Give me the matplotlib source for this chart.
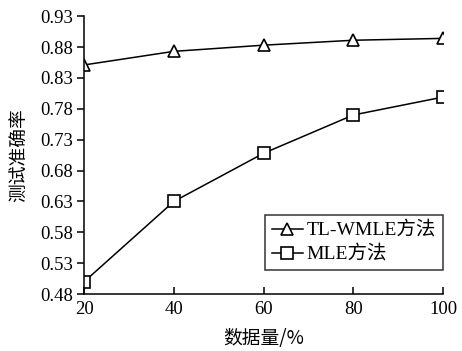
import matplotlib
matplotlib.use("Agg")
import matplotlib.pyplot as plt

plt.rcParams['font.family'] = ['Liberation Serif', 'Noto Sans CJK SC']
plt.rcParams['mathtext.fontset'] = 'stix'

data_pct = [20, 40, 60, 80, 100]
tl_wmle_acc = [0.851, 0.873, 0.883, 0.891, 0.894]
mle_acc = [0.500, 0.630, 0.708, 0.770, 0.799]
y_ticks = [0.48, 0.53, 0.58, 0.63, 0.68, 0.73, 0.78, 0.83, 0.88, 0.93]

fig = plt.figure(figsize=(4.62, 3.51), dpi=100)
ax = fig.add_axes([0.182, 0.162, 0.777, 0.792])

ax.plot(data_pct, tl_wmle_acc, color='black', lw=1.1, marker='^',
        ms=9, mfc='white', mec='black', mew=1.2, label='TL-WMLE方法')
ax.plot(data_pct, mle_acc, color='black', lw=1.1, marker='s',
        ms=8.5, mfc='white', mec='black', mew=1.2, label='MLE方法')

ax.set_xlim(20, 100)
ax.set_ylim(0.48, 0.93)
ax.set_xticks(data_pct)
ax.set_yticks(y_ticks)
ax.set_yticklabels([f"{v:.2f}" for v in y_ticks])

for side in ('top', 'right'):
    ax.spines[side].set_visible(False)
for side in ('left', 'bottom'):
    ax.spines[side].set_linewidth(1.1)

ax.tick_params(axis='x', direction='in', length=5, width=1.1, labelsize=13.5, pad=5)
ax.tick_params(axis='y', direction='out', length=5, width=1.1, labelsize=13.5, pad=3)

ax.set_xlabel('数据量/%', fontsize=13.5, family=['Noto Sans CJK SC', 'Liberation Serif'], labelpad=7)
ax.set_ylabel('测试准确率', fontsize=13.5, family=['Noto Sans CJK SC', 'Liberation Serif'], labelpad=8)

leg = ax.legend(loc='lower right', bbox_to_anchor=(1.0, 0.086), fontsize=14,
                frameon=True, fancybox=False, edgecolor='black',
                handlelength=1.6, handletextpad=0.2, borderpad=0.35,
                labelspacing=0.3, borderaxespad=0.0)
leg.get_frame().set_linewidth(1.1)
for t in leg.get_texts():
    t.set_family(['Liberation Serif', 'Noto Sans CJK SC'])

fig.savefig('out.png', dpi=100)
